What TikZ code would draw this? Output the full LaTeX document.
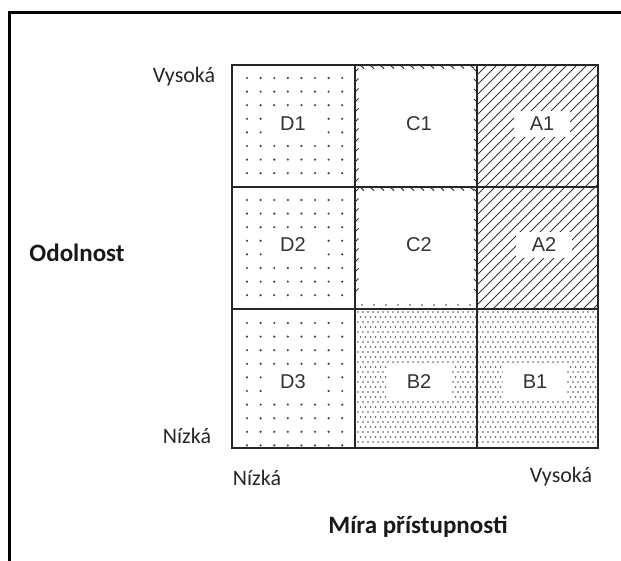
\documentclass[tikz,border=0pt]{standalone}
\usepackage{fontspec}
\setmainfont{Carlito}
\newfontfamily\cellfont{Liberation Sans}

\begin{document}
\begin{tikzpicture}[x=0.5pt,y=-0.5pt,
  gridline/.style={line width=1pt,draw=black!85},
  framepath/.style={line width=1.1pt,draw=black},
  sparsedot/.style={fill=black!75},
  densedot/.style={fill=black!65},
  hatchline/.style={line width=0.5pt,draw=black!80},
  ctick/.style={line width=0.5pt,draw=black!80},
  celllabel/.style={font=\cellfont\fontsize{10}{12}\selectfont,text=black!80,fill=white,inner sep=0pt,minimum width=28pt,minimum height=13pt},
  widelabel/.style={celllabel,minimum width=32pt,minimum height=17pt},
  axislabel/.style={font=\fontsize{11}{13}\selectfont,text=black!85},
  titlelabel/.style={font=\bfseries\fontsize{12.5}{15}\selectfont,text=black!90}]
  % Boundary
  \path[use as bounding box] (0,0) rectangle (621,561);
  % Outer frame
  \draw[framepath] (9.5,570) -- (9.5,12.5) -- (630,12.5);
  % Sparse dots (column D)
  \foreach \r/\n in {78/7,200/7,323/9}
    \foreach \j in {0,...,\n}
      \foreach \i in {0,...,7}
        \fill[sparsedot] ({247+13.6*\i},{\r+13.6*\j}) circle (1.2);
  % Dense dots (B1, B2)
  \foreach \j in {0,...,26}
    \foreach \i in {0,...,47}
      \fill[densedot] ({358+5*\i+mod(\j,2)*2.5},{312+5*\j}) circle (0.95);
  % Hatching (A1, A2)
  \begin{scope}
    \clip (477,65) rectangle (598,309);
    \foreach \c in {542,552,...,912}
      \draw[hatchline] ({\c-309},309) -- ({\c-65},65);
  \end{scope}
  % Ticked edges (C1, C2)
  \foreach \x in {360,370,...,470} {
    \draw[ctick] (\x,65) -- ({\x+4},68.5);
    \draw[ctick] (\x,187) -- ({\x+4},190.5);
  }
  \foreach \y in {72,82,...,300} {
    \draw[ctick] (355,\y) -- (358.5,{\y-3.5});
    \draw[ctick] (477,\y) -- (474,{\y-3});
  }
  \foreach \x in {362,374,...,470}
    \fill[sparsedot] (\x,305) circle (0.8);
  % Cell labels
  \node[celllabel] (d1) at (293,124) {D1};
  \node[celllabel] (c1) at (419,124) {C1};
  \node[celllabel] (a1) at (542,124) {A1};
  \node[celllabel] (d2) at (293,245) {D2};
  \node[celllabel] (c2) at (419,245) {C2};
  \node[celllabel] (a2) at (544,245) {A2};
  \node[celllabel] (d3) at (293,382) {D3};
  \node[widelabel] (b2) at (419,382) {B2};
  \node[widelabel] (b1) at (535,382) {B1};
  % Grid
  \draw[gridline] (232,65) rectangle (598,448);
  \foreach \x in {355,477}
    \draw[gridline] (\x,65) -- (\x,448);
  \foreach \y in {187,309}
    \draw[gridline] (232,\y) -- (598,\y);
  % Axis labels
  \node[axislabel] (yhigh) at (184,77) {Vysoká};
  \node[axislabel] (ylow) at (187,436) {Nízká};
  \node[axislabel] (xlow) at (257,478) {Nízká};
  \node[axislabel] (xhigh) at (561,477) {Vysoká};
  \node[titlelabel] (ytitle) at (77,253) {Odolnost};
  \node[titlelabel] (xtitle) at (418,527) {Míra přístupnosti};
\end{tikzpicture}
\end{document}
